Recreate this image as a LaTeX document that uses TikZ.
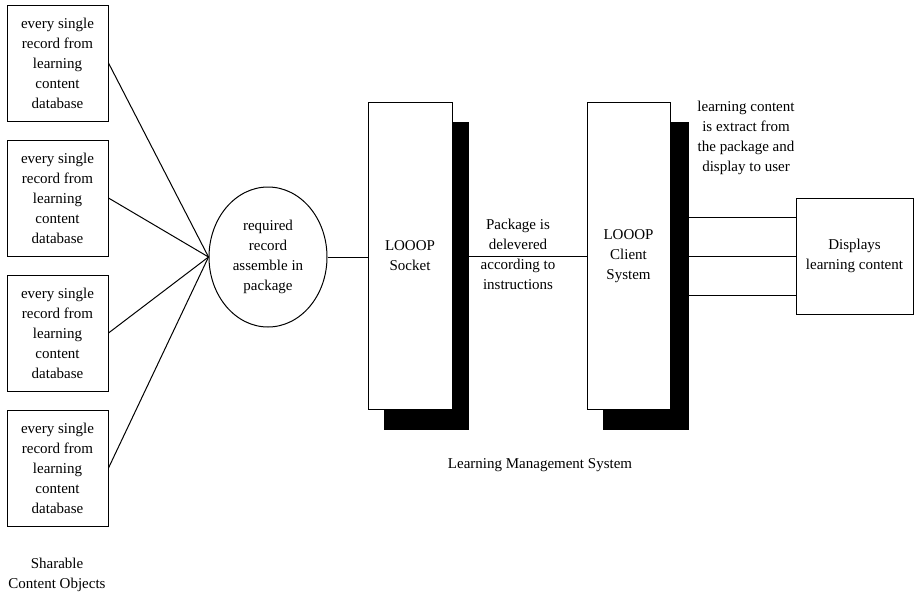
\documentclass[tikz,border=0pt]{standalone}
\usepackage{fontspec}
\setmainfont{Liberation Serif}
\usetikzlibrary{shapes.geometric}
\begin{document}
\begin{tikzpicture}[x=1pt,y=-1pt,
  every node/.style={font=\fontsize{15}{20}\selectfont, align=center},
  line/.style={draw=black, line width=1pt},
  recbox/.style={line, fill=white, minimum width=101pt, minimum height=116pt, inner sep=0pt},
  tallbox/.style={line, fill=white, minimum width=84pt, minimum height=307pt, inner sep=0pt},
  shadowbox/.style={draw=black, fill=black, minimum width=84pt, minimum height=307pt, inner sep=0pt},
  plain/.style={inner sep=0pt}
]
\useasboundingbox (0,0) rectangle (915,600);

% source records
\node[recbox] (r1) at (57.5,63)  {every single\\record from\\learning\\content\\database};
\node[recbox] (r2) at (57.5,198) {every single\\record from\\learning\\content\\database};
\node[recbox] (r3) at (57.5,333) {every single\\record from\\learning\\content\\database};
\node[recbox] (r4) at (57.5,468) {every single\\record from\\learning\\content\\database};
\node[plain] (sco) at (57,575) {Sharable\\Content Objects};

% package assembly
\node[ellipse, line, minimum width=118pt, minimum height=140pt, inner sep=0pt] (circ) at (268,257)
  {required\\record\\assemble in\\package};

\foreach \r in {r1,r2,r3,r4}
  \draw[line] (\r.east) -- (circ.west);

% LOOOP socket with drop shadow
\node[shadowbox] (socketsh) at (426.5,275.5) {};
\node[tallbox] (socket) at (410,255.5) {LOOOP\\Socket};

% LOOOP client with drop shadow
\node[shadowbox, minimum width=85pt] (clientsh) at (645.5,275.5) {};
\node[tallbox, minimum width=83pt] (client) at (628.5,256) {LOOOP\\Client\\System};

% display box
\node[line, minimum width=117pt, minimum height=116pt, inner sep=0pt] (disp) at (854.5,256)
  {Displays\\learning content};

% connectors
\draw[line] (circ.east) -- (circ.east -| socket.west);
\draw[line] (socketsh.east |- client.west) -- (client.west);
\draw[line] ([yshift=39pt]disp.west) -- ([yshift=39pt]disp.west -| clientsh.east);
\draw[line] (disp.west) -- (disp.west -| clientsh.east);
\draw[line] ([yshift=-39pt]disp.west) -- ([yshift=-39pt]disp.west -| clientsh.east);

% labels
\node[plain] (deliv) at (518,254.5) {Package is\\delevered\\according to\\instructions};
\node[plain] (extract) at (746,138) {learning content\\is extract from\\the package and\\display to user};
\node[plain] (lms) at (540,465) {Learning Management System};
\end{tikzpicture}
\end{document}
